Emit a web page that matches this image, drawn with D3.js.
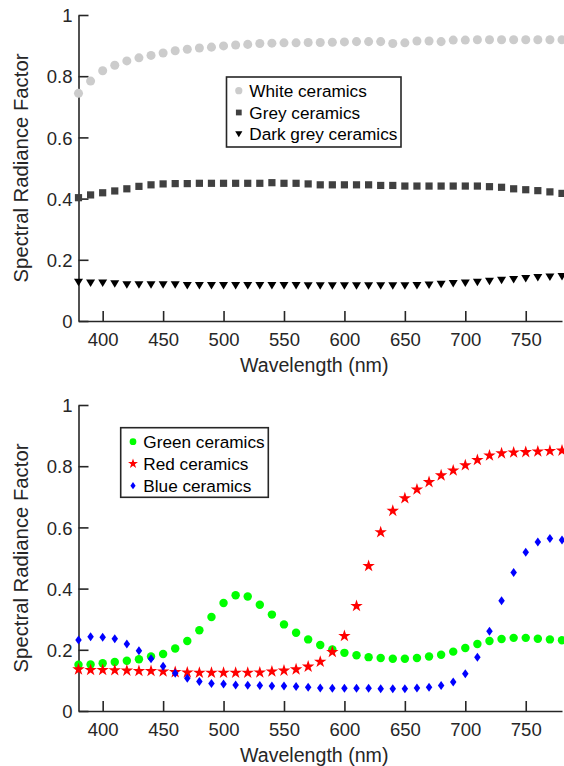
<!DOCTYPE html>
<html><head><meta charset="utf-8">
<script src="https://cdn.jsdelivr.net/npm/d3@7"></script>
<style>body{margin:0;background:#fff}svg{display:block}text{font-family:"Liberation Sans",Arial,sans-serif}</style>
</head><body>
<script>
const wavelengths = d3.range(380, 781, 10);
const xTicks = [400, 450, 500, 550, 600, 650, 700, 750];
const yTicks = [0, 0.2, 0.4, 0.6, 0.8, 1];
const yTickLabels = ["0", "0.2", "0.4", "0.6", "0.8", "1"];

const whiteCeramics = [0.744,0.784,0.818,0.836,0.850,0.860,0.868,0.876,0.883,0.888,0.892,0.895,0.899,0.902,0.904,0.907,0.908,
  0.909,0.909,0.910,0.910,0.911,0.912,0.913,0.913,0.913,0.907,0.909,0.915,0.915,0.913,0.918,0.918,0.919,0.919,0.919,0.919,0.919,0.919,0.919,0.919];
const greyCeramics = [0.403,0.412,0.419,0.425,0.432,0.440,0.445,0.448,0.449,0.449,0.450,0.450,0.450,0.450,0.450,0.450,0.452,
  0.450,0.450,0.448,0.445,0.445,0.445,0.445,0.445,0.443,0.443,0.441,0.441,0.441,0.441,0.441,0.441,0.441,0.439,0.437,0.432,0.429,0.426,0.422,0.417];
const darkGreyCeramics = [0.126,0.123,0.123,0.121,0.118,0.118,0.118,0.118,0.118,0.115,0.115,0.115,0.115,0.115,0.115,0.115,0.115,
  0.115,0.115,0.114,0.114,0.114,0.114,0.114,0.114,0.114,0.114,0.114,0.115,0.117,0.119,0.122,0.123,0.126,0.129,0.132,0.135,0.138,0.141,0.143,0.145];

const greenCeramics = [0.151,0.152,0.156,0.160,0.164,0.169,0.178,0.186,0.204,0.229,0.264,0.307,0.353,0.378,0.374,0.347,0.315,0.283,0.256,
  0.234,0.216,0.201,0.190,0.182,0.176,0.173,0.171,0.171,0.173,0.178,0.184,0.194,0.206,0.219,0.229,0.235,0.239,0.239,0.236,0.234,0.231];
const redCeramics = [0.136,0.134,0.134,0.133,0.132,0.131,0.131,0.129,0.127,0.126,0.125,0.125,0.125,0.125,0.125,0.126,0.129,0.132,0.136,
  0.145,0.161,0.193,0.245,0.343,0.474,0.584,0.654,0.695,0.724,0.748,0.770,0.786,0.803,0.820,0.835,0.842,0.845,0.846,0.848,0.850,0.851];
const blueCeramics = [0.232,0.243,0.241,0.236,0.219,0.197,0.171,0.146,0.123,0.107,0.096,0.090,0.088,0.085,0.084,0.083,0.082,0.082,0.080,
  0.078,0.075,0.074,0.074,0.074,0.074,0.073,0.073,0.073,0.075,0.078,0.083,0.095,0.122,0.176,0.261,0.360,0.453,0.519,0.552,0.564,0.559];

const topNames = ["White ceramics", "Grey ceramics", "Dark grey ceramics"];
const bottomNames = ["Green ceramics", "Red ceramics", "Blue ceramics"];

const W = 564, H = 766;
const axisColor = "#262626";
const svg = d3.select("body").append("svg").attr("width", W).attr("height", H);

// marker shapes
function diamondPath(w, h) { return `M0,${-h/2}L${w/2},0L0,${h/2}L${-w/2},0Z`; }
function triDownPath(w, h) { return `M${-w/2},${-h/2}L${w/2},${-h/2}L0,${h/2}Z`; }
const shapes = {
  circleL: { d: d3.symbol(d3.symbolCircle, 64)(), fill: "#cccccc" },
  square: { d: d3.symbol(d3.symbolSquare, 52)(), fill: "#404040" },
  tri: { d: triDownPath(9, 7.5), fill: "#000000" },
  circleG: { d: d3.symbol(d3.symbolCircle, 56)(), fill: "#00ff00" },
  star: { d: d3.symbol(d3.symbolStar, 48)(), fill: "#ff0000" },
  diamond: { d: diamondPath(6.5, 9), fill: "#0000ff" }
};

function panel(top, series, legend) {
  const x = d3.scaleLinear().domain([380, 780]).range([78.5, 562]);
  const y = d3.scaleLinear().domain([0, 1]).range([top + 306, top]);
  const g = svg.append("g");

  // y axis
  const ya = g.append("g").attr("transform", `translate(${x(380)},0)`)
    .call(d3.axisLeft(y).tickValues(yTicks).tickFormat((d, i) => yTickLabels[i]).tickSizeInner(-10).tickSizeOuter(0).tickPadding(6));
  // x axis
  const xa = g.append("g").attr("transform", `translate(0,${y(0)})`)
    .call(d3.axisBottom(x).tickValues(xTicks).tickFormat(d3.format("d")).tickSizeInner(-10).tickSizeOuter(0).tickPadding(8));
  [ya, xa].forEach(a => {
    a.select(".domain").attr("stroke", axisColor).attr("stroke-width", 1.6);
    a.selectAll(".tick line").attr("stroke", axisColor).attr("stroke-width", 1.6);
    a.selectAll(".tick text").attr("fill", axisColor).style("font-size", "18.5px");
  });
  xa.selectAll(".tick text").attr("dy", null).attr("y", 25);
  ya.selectAll(".tick text").attr("dy", "0.36em");

  // titles
  g.append("text").attr("x", (x(380) + x(780)) / 2 - 6).attr("y", y(0) + 50.5)
    .attr("text-anchor", "middle").attr("fill", axisColor).style("font-size", "19.6px").text("Wavelength (nm)");
  g.append("text").attr("transform", `translate(27.5,${(y(0) + y(1)) / 2}) rotate(-90)`)
    .attr("text-anchor", "middle").attr("fill", axisColor).style("font-size", "20.3px").text("Spectral Radiance Factor");

  // data
  series.forEach(s => {
    g.append("g").selectAll("path").data(s.values).join("path")
      .attr("d", shapes[s.shape].d)
      .attr("fill", shapes[s.shape].fill)
      .attr("transform", (v, i) => `translate(${x(wavelengths[i])},${y(v)})`);
  });

  // legend
  const lg = g.append("g");
  lg.append("rect").attr("x", legend.x).attr("y", legend.y).attr("width", legend.w).attr("height", legend.h)
    .attr("fill", "#fff").attr("stroke", axisColor).attr("stroke-width", 1.6);
  series.forEach((s, i) => {
    const cy = legend.y + legend.first + i * legend.step;
    lg.append("path").attr("d", shapes[s.shape].d).attr("fill", shapes[s.shape].fill)
      .attr("transform", `translate(${legend.mx},${cy}) scale(0.8)`);
    lg.append("text").attr("x", legend.tx).attr("y", cy).attr("dy", "0.36em")
      .attr("fill", "#000").style("font-size", "17.2px").text(s.name);
  });
}

panel(15, [
  { name: topNames[0], values: whiteCeramics, shape: "circleL" },
  { name: topNames[1], values: greyCeramics, shape: "square" },
  { name: topNames[2], values: darkGreyCeramics, shape: "tri" }
], { x: 226.5, y: 77, w: 174.5, h: 70, first: 13.7, step: 21.8, mx: 238.8, tx: 249.3 });

panel(405, [
  { name: bottomNames[0], values: greenCeramics, shape: "circleG" },
  { name: bottomNames[1], values: redCeramics, shape: "star" },
  { name: bottomNames[2], values: blueCeramics, shape: "diamond" }
], { x: 120.7, y: 427.7, w: 147.6, h: 69.6, first: 14, step: 22, mx: 133, tx: 143.3 });
</script>
</body></html>
